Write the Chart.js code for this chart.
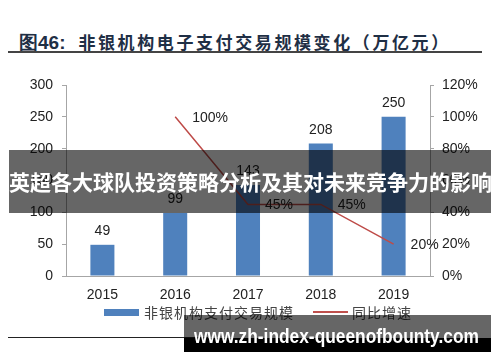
<!DOCTYPE html>
<html lang="zh">
<head>
<meta charset="UTF-8">
<title>非银机构电子支付交易规模变化</title>
<script src="https://cdn.jsdelivr.net/npm/chart.js"></script>
<style>
  body { margin: 0; width: 500px; height: 362px; background: #fff; position: relative; overflow: hidden; font-family: "Liberation Sans", Arial, sans-serif; }
  #title { position: absolute; left: 19px; top: 29px; font: bold 17px "Noto Sans CJK SC", sans-serif; color: #1f2f45; letter-spacing: 2.6px; white-space: nowrap; }
  #title b { font-family: "Liberation Sans", Arial, sans-serif; font-size: 19px; letter-spacing: 0; }
  #rule { position: absolute; left: 8px; top: 51px; width: 474px; height: 2px; background: #444; }
  #rule2 { position: absolute; left: 8px; top: 337px; width: 200px; height: 1px; background: #222; }
  #chartWrap { position: absolute; left: 0; top: 0; }
  .legend { position: absolute; top: 302px; font: 14px "Noto Sans CJK SC", sans-serif; color: #444; white-space: nowrap; letter-spacing: 1px; }
  .swatch { position: absolute; }
  #banner { position: absolute; left: 9px; top: 150px; width: 482px; height: 63px; background: rgba(0,0,0,0.6); color: #fff; font: bold 21px "Noto Sans CJK SC", sans-serif; line-height: 63px; text-align: center; white-space: nowrap; }
  #mark { position: absolute; left: 184px; top: 315px; width: 307px; height: 37px; background: rgba(0,0,0,0.6); }
  #markDark { position: absolute; left: 184px; top: 338px; width: 307px; height: 14px; background: #000; }
  #markText { position: absolute; left: 194px; top: 325px; color: #fff; font: bold 20px "Liberation Sans", Arial, sans-serif; white-space: nowrap; transform-origin: 0 0; }
</style>
</head>
<body>
<div id="title"><b>图46:</b>&nbsp; 非银机构电子支付交易规模变化（万亿元）</div>
<div id="rule"></div>
<div id="rule2"></div>
<div id="chartWrap"><canvas id="chart" width="500" height="362"></canvas></div>
<div class="swatch" style="left:104px;top:309px;width:35px;height:7px;background:#4f81bd"></div>
<div class="legend" style="left:144px">非银机构支付交易规模</div>
<div class="swatch" style="left:313px;top:311px;width:35px;height:2px;background:#c0504d"></div>
<div class="legend" style="left:352px">同比增速</div>
<div id="banner">英超各大球队投资策略分析及其对未来竞争力的影响</div>
<div id="mark"></div>
<div id="markDark"></div>
<div id="markText">www.zh-index-queenofbounty.com</div>

<script>
  // 数据
  const years = ["2015", "2016", "2017", "2018", "2019"];
  const volume = [49, 99, 143, 208, 250];          // 万亿元
  const growth = [null, 100, 45, 45, 20];          // %
  const volumeName = "非银机构支付交易规模";
  const growthName = "同比增速";

  const axisGray = "#a6a6a6";
  const tickFont = { family: "Liberation Sans, Arial, sans-serif", size: 14 };

  // 水印文字宽度适配
  const mt = document.getElementById("markText");
  mt.style.transform = "scaleX(" + (285 / mt.offsetWidth) + ")";

  // 数值标签
  const valueLabels = {
    id: "valueLabels",
    afterDatasetsDraw(chart) {
      const ctx = chart.ctx;
      ctx.save();
      ctx.font = "14px 'Liberation Sans', Arial, sans-serif";
      ctx.fillStyle = "#222";
      chart.getDatasetMeta(0).data.forEach((bar, i) => {
        ctx.textAlign = "center";
        ctx.textBaseline = "alphabetic";
        ctx.fillText(volume[i], bar.x, bar.y - 10);
      });
      chart.getDatasetMeta(1).data.forEach((pt, i) => {
        if (growth[i] == null) return;
        ctx.textAlign = "left";
        ctx.textBaseline = "middle";
        ctx.fillText(growth[i] + "%", pt.x + 17, pt.y + 1);
      });
      ctx.restore();
    }
  };

  new Chart(document.getElementById("chart").getContext("2d"), {
    data: {
      labels: years,
      datasets: [
        {
          type: "bar",
          label: volumeName,
          data: volume,
          yAxisID: "y",
          backgroundColor: "#4f81bd",
          categoryPercentage: 1,
          barPercentage: 0.33,
          order: 2
        },
        {
          type: "line",
          label: growthName,
          data: growth,
          yAxisID: "y1",
          borderColor: "#be4b48",
          borderWidth: 1.5,
          pointRadius: 0,
          tension: 0,
          order: 1
        }
      ]
    },
    options: {
      responsive: false,
      animation: false,
      layout: { padding: { top: 85, left: 0, right: 0, bottom: 0 } },
      plugins: { legend: { display: false }, tooltip: { enabled: false } },
      scales: {
        x: {
          grid: { display: false },
          border: { display: true, color: axisGray },
          ticks: { font: tickFont, color: "#222", padding: 3 },
          afterFit: s => { s.height = 86; }
        },
        y: {
          position: "left",
          min: 0, max: 300,
          grid: { drawOnChartArea: false, drawTicks: true, tickLength: 4, color: axisGray },
          border: { display: true, color: axisGray },
          ticks: { stepSize: 50, font: tickFont, color: "#222", padding: 9 },
          afterFit: s => { s.width = 66; }
        },
        y1: {
          position: "right",
          min: 0, max: 120,
          grid: { drawOnChartArea: false, drawTicks: true, tickLength: 4, color: axisGray },
          border: { display: true, color: axisGray },
          ticks: { stepSize: 20, font: tickFont, color: "#222", padding: 8, callback: v => v + "%" },
          afterFit: s => { s.width = 70; }
        }
      }
    },
    plugins: [valueLabels]
  });
</script>
</body>
</html>
